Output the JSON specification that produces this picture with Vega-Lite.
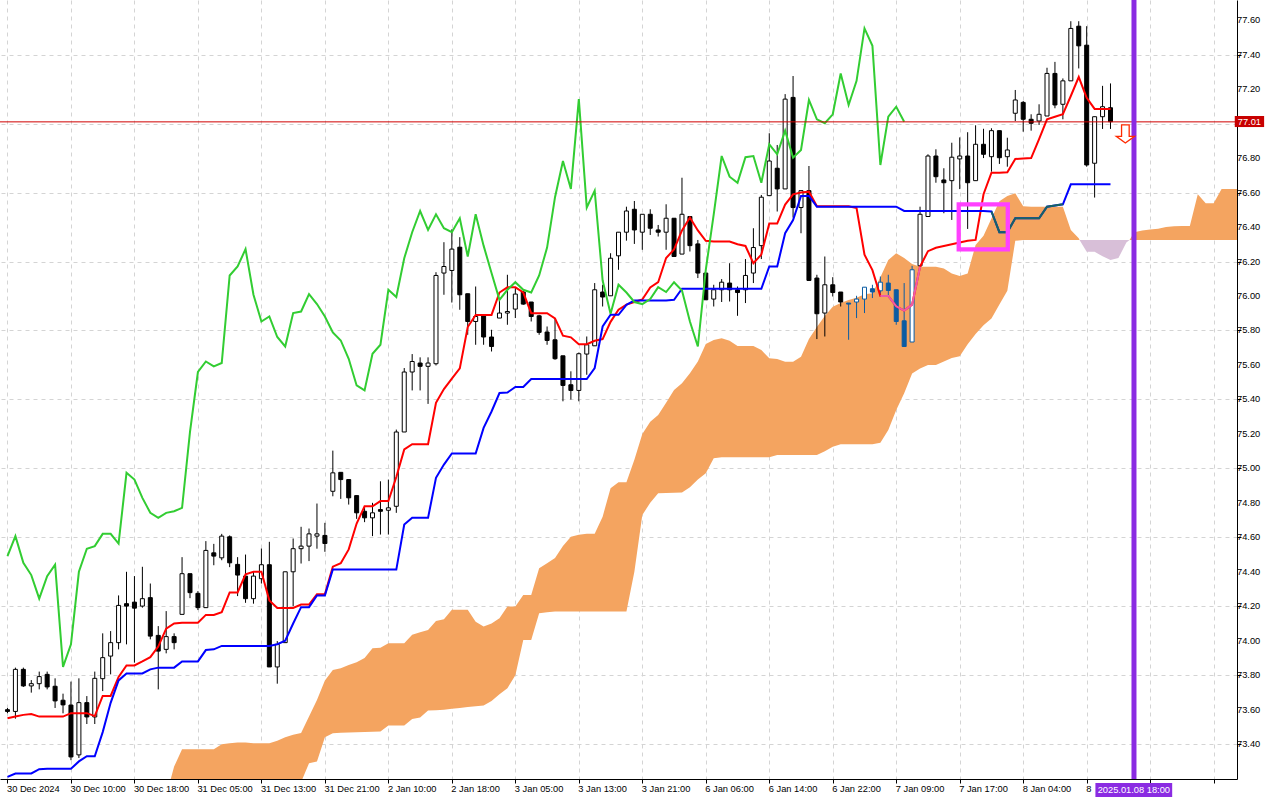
{
  "$schema": "https://vega.github.io/schema/vega-lite/v6.json",
  "width": 1237,
  "height": 779,
  "autosize": {"type": "none"},
  "padding": {"left": 0, "top": 0, "right": 43, "bottom": 21},
  "background": "white",
  "config": {
    "view": {"stroke": null},
    "axis": {"labelFont": "Liberation Sans", "labelFontSize": 9.3, "labelColor": "black", "domainColor": "black", "tickColor": "black", "gridColor": "#d4d4d4", "gridDash": [4, 4], "labelOverlap": false}
  },
  "datasets": {
    "bars": [
      {"i":0,"o":73.60,"h":73.61,"l":73.58,"c":73.59,"t":73.55,"k":73.21,"ch":74.491},
      {"i":1,"o":73.59,"h":73.844,"l":73.548,"c":73.834,"t":73.56,"k":73.23,"ch":74.607},
      {"i":2,"o":73.834,"h":73.844,"l":73.732,"c":73.738,"t":73.57,"k":73.23,"ch":74.452},
      {"i":3,"o":73.738,"h":73.772,"l":73.699,"c":73.751,"t":73.575,"k":73.23,"ch":74.381},
      {"i":4,"o":73.751,"h":73.821,"l":73.718,"c":73.792,"t":73.56,"k":73.255,"ch":74.244},
      {"i":5,"o":73.805,"h":73.821,"l":73.718,"c":73.732,"t":73.56,"k":73.258,"ch":74.375},
      {"i":6,"o":73.736,"h":73.782,"l":73.610,"c":73.651,"t":73.56,"k":73.258,"ch":74.441},
      {"i":7,"o":73.655,"h":73.693,"l":73.579,"c":73.628,"t":73.56,"k":73.258,"ch":73.848},
      {"i":8,"o":73.627,"h":73.763,"l":73.307,"c":73.326,"t":73.58,"k":73.258,"ch":73.979},
      {"i":9,"o":73.338,"h":73.782,"l":73.320,"c":73.641,"t":73.58,"k":73.30,"ch":74.400},
      {"i":10,"o":73.641,"h":73.679,"l":73.517,"c":73.558,"t":73.58,"k":73.33,"ch":74.534},
      {"i":11,"o":73.558,"h":73.821,"l":73.517,"c":73.782,"t":73.563,"k":73.33,"ch":74.549},
      {"i":12,"o":73.780,"h":74.043,"l":73.708,"c":73.902,"t":73.68,"k":73.47,"ch":74.620},
      {"i":13,"o":73.911,"h":74.056,"l":73.805,"c":73.989,"t":73.68,"k":73.64,"ch":74.620},
      {"i":14,"o":73.989,"h":74.263,"l":73.950,"c":74.205,"t":73.79,"k":73.77,"ch":74.564},
      {"i":15,"o":74.215,"h":74.400,"l":73.979,"c":74.201,"t":73.857,"k":73.81,"ch":74.974},
      {"i":16,"o":74.224,"h":74.375,"l":73.873,"c":74.189,"t":73.857,"k":73.81,"ch":74.935},
      {"i":17,"o":74.201,"h":74.429,"l":74.192,"c":74.244,"t":73.88,"k":73.81,"ch":74.829},
      {"i":18,"o":74.250,"h":74.332,"l":74.008,"c":74.027,"t":73.905,"k":73.834,"ch":74.742},
      {"i":19,"o":74.031,"h":74.085,"l":73.718,"c":73.940,"t":73.966,"k":73.844,"ch":74.713},
      {"i":20,"o":73.950,"h":74.172,"l":73.927,"c":74.024,"t":74.07,"k":73.844,"ch":74.742},
      {"i":21,"o":74.024,"h":74.043,"l":73.950,"c":73.989,"t":74.10,"k":73.844,"ch":74.751},
      {"i":22,"o":74.153,"h":74.485,"l":74.153,"c":74.389,"t":74.105,"k":73.88,"ch":74.771},
      {"i":23,"o":74.389,"h":74.389,"l":74.247,"c":74.279,"t":74.105,"k":73.88,"ch":75.211},
      {"i":24,"o":74.275,"h":74.288,"l":74.178,"c":74.192,"t":74.105,"k":73.88,"ch":75.559},
      {"i":25,"o":74.192,"h":74.578,"l":74.192,"c":74.524,"t":74.15,"k":73.946,"ch":75.620},
      {"i":26,"o":74.510,"h":74.562,"l":74.438,"c":74.491,"t":74.15,"k":73.95,"ch":75.592},
      {"i":27,"o":74.481,"h":74.620,"l":74.467,"c":74.607,"t":74.166,"k":73.97,"ch":75.611},
      {"i":28,"o":74.603,"h":74.611,"l":74.427,"c":74.452,"t":74.28,"k":73.97,"ch":76.119},
      {"i":29,"o":74.443,"h":74.485,"l":74.259,"c":74.381,"t":74.28,"k":73.97,"ch":76.171},
      {"i":30,"o":74.375,"h":74.500,"l":74.220,"c":74.244,"t":74.385,"k":73.97,"ch":76.272},
      {"i":31,"o":74.244,"h":74.400,"l":74.215,"c":74.375,"t":74.40,"k":73.97,"ch":76.007},
      {"i":32,"o":74.360,"h":74.535,"l":74.332,"c":74.441,"t":74.40,"k":73.97,"ch":75.852},
      {"i":33,"o":74.441,"h":74.574,"l":73.848,"c":73.848,"t":74.234,"k":73.97,"ch":75.881},
      {"i":34,"o":73.848,"h":73.998,"l":73.751,"c":73.979,"t":74.19,"k":73.98,"ch":75.762},
      {"i":35,"o":73.989,"h":74.400,"l":73.989,"c":74.400,"t":74.19,"k":74.00,"ch":75.707},
      {"i":36,"o":74.400,"h":74.593,"l":74.201,"c":74.534,"t":74.19,"k":74.10,"ch":75.901},
      {"i":37,"o":74.534,"h":74.661,"l":74.448,"c":74.549,"t":74.21,"k":74.195,"ch":75.910},
      {"i":38,"o":74.549,"h":74.651,"l":74.462,"c":74.620,"t":74.21,"k":74.195,"ch":76.011},
      {"i":39,"o":74.607,"h":74.796,"l":74.534,"c":74.620,"t":74.27,"k":74.263,"ch":75.953},
      {"i":40,"o":74.611,"h":74.684,"l":74.516,"c":74.564,"t":74.27,"k":74.263,"ch":75.881},
      {"i":41,"o":74.867,"h":75.103,"l":74.838,"c":74.974,"t":74.43,"k":74.413,"ch":75.789},
      {"i":42,"o":74.977,"h":74.977,"l":74.823,"c":74.935,"t":74.45,"k":74.413,"ch":75.742},
      {"i":43,"o":74.935,"h":74.935,"l":74.790,"c":74.829,"t":74.53,"k":74.413,"ch":75.636},
      {"i":44,"o":74.842,"h":74.842,"l":74.707,"c":74.742,"t":74.68,"k":74.413,"ch":75.481},
      {"i":45,"o":74.751,"h":74.777,"l":74.688,"c":74.713,"t":74.78,"k":74.413,"ch":75.452},
      {"i":46,"o":74.713,"h":74.800,"l":74.607,"c":74.742,"t":74.78,"k":74.413,"ch":75.665},
      {"i":47,"o":74.761,"h":74.925,"l":74.616,"c":74.751,"t":74.81,"k":74.413,"ch":75.717},
      {"i":48,"o":74.757,"h":74.935,"l":74.616,"c":74.771,"t":74.81,"k":74.413,"ch":76.036},
      {"i":49,"o":74.780,"h":75.225,"l":74.742,"c":75.211,"t":74.95,"k":74.413,"ch":75.994},
      {"i":50,"o":75.211,"h":75.582,"l":75.211,"c":75.559,"t":75.11,"k":74.674,"ch":76.219},
      {"i":51,"o":75.559,"h":75.663,"l":75.452,"c":75.620,"t":75.14,"k":74.713,"ch":76.370},
      {"i":52,"o":75.611,"h":75.644,"l":75.452,"c":75.592,"t":75.14,"k":74.713,"ch":76.493},
      {"i":53,"o":75.592,"h":75.644,"l":75.374,"c":75.611,"t":75.14,"k":74.713,"ch":76.383},
      {"i":54,"o":75.607,"h":76.138,"l":75.597,"c":76.119,"t":75.38,"k":74.945,"ch":76.474},
      {"i":55,"o":76.133,"h":76.312,"l":76.007,"c":76.171,"t":75.46,"k":75.022,"ch":76.393},
      {"i":56,"o":76.148,"h":76.387,"l":75.962,"c":76.272,"t":75.52,"k":75.086,"ch":76.370},
      {"i":57,"o":76.283,"h":76.341,"l":75.920,"c":76.007,"t":75.58,"k":75.086,"ch":76.451},
      {"i":58,"o":76.013,"h":76.013,"l":75.775,"c":75.852,"t":75.82,"k":75.086,"ch":76.229},
      {"i":59,"o":75.852,"h":76.055,"l":75.717,"c":75.881,"t":75.89,"k":75.086,"ch":76.474},
      {"i":60,"o":75.887,"h":75.887,"l":75.717,"c":75.762,"t":75.89,"k":75.235,"ch":76.292},
      {"i":61,"o":75.762,"h":75.804,"l":75.678,"c":75.707,"t":75.89,"k":75.33,"ch":76.133},
      {"i":62,"o":75.872,"h":75.978,"l":75.872,"c":75.901,"t":76.02,"k":75.437,"ch":75.978},
      {"i":63,"o":75.901,"h":76.123,"l":75.833,"c":75.910,"t":76.05,"k":75.44,"ch":76.036},
      {"i":64,"o":75.924,"h":76.046,"l":75.872,"c":76.011,"t":76.05,"k":75.472,"ch":76.080},
      {"i":65,"o":76.023,"h":76.030,"l":75.949,"c":75.953,"t":76.02,"k":75.472,"ch":76.036},
      {"i":66,"o":75.965,"h":75.965,"l":75.852,"c":75.881,"t":75.90,"k":75.518,"ch":76.020},
      {"i":67,"o":75.885,"h":75.891,"l":75.775,"c":75.789,"t":75.90,"k":75.518,"ch":76.119},
      {"i":68,"o":75.791,"h":75.823,"l":75.717,"c":75.742,"t":75.90,"k":75.518,"ch":76.281},
      {"i":69,"o":75.746,"h":75.872,"l":75.630,"c":75.636,"t":75.87,"k":75.518,"ch":76.573},
      {"i":70,"o":75.653,"h":75.653,"l":75.389,"c":75.481,"t":75.77,"k":75.518,"ch":76.783},
      {"i":71,"o":75.485,"h":75.563,"l":75.399,"c":75.452,"t":75.76,"k":75.518,"ch":76.621},
      {"i":72,"o":75.452,"h":75.672,"l":75.389,"c":75.665,"t":75.72,"k":75.518,"ch":77.142},
      {"i":73,"o":75.663,"h":75.765,"l":75.543,"c":75.717,"t":75.72,"k":75.518,"ch":76.513},
      {"i":74,"o":75.711,"h":76.075,"l":75.711,"c":76.036,"t":75.74,"k":75.582,"ch":76.611},
      {"i":75,"o":76.023,"h":76.065,"l":75.939,"c":75.994,"t":75.75,"k":75.823,"ch":76.090},
      {"i":76,"o":76.001,"h":76.248,"l":76.001,"c":76.219,"t":75.85,"k":75.891,"ch":75.897},
      {"i":77,"o":76.233,"h":76.370,"l":76.152,"c":76.370,"t":75.92,"k":75.891,"ch":76.065},
      {"i":78,"o":76.370,"h":76.518,"l":76.321,"c":76.493,"t":75.95,"k":75.949,"ch":76.020},
      {"i":79,"o":76.503,"h":76.551,"l":76.302,"c":76.383,"t":75.965,"k":75.974,"ch":75.965},
      {"i":80,"o":76.370,"h":76.474,"l":76.268,"c":76.474,"t":75.98,"k":75.974,"ch":75.953},
      {"i":81,"o":76.474,"h":76.503,"l":76.354,"c":76.393,"t":76.05,"k":75.974,"ch":75.982},
      {"i":82,"o":76.383,"h":76.412,"l":76.345,"c":76.370,"t":76.08,"k":75.974,"ch":76.051},
      {"i":83,"o":76.370,"h":76.532,"l":76.268,"c":76.451,"t":76.22,"k":75.974,"ch":76.023},
      {"i":84,"o":76.451,"h":76.451,"l":76.229,"c":76.229,"t":76.27,"k":75.978,"ch":76.080},
      {"i":85,"o":76.243,"h":76.686,"l":76.243,"c":76.474,"t":76.38,"k":76.042,"ch":76.032},
      {"i":86,"o":76.461,"h":76.461,"l":76.258,"c":76.292,"t":76.455,"k":76.042,"ch":75.852},
      {"i":87,"o":76.302,"h":76.325,"l":76.104,"c":76.133,"t":76.38,"k":76.042,"ch":75.707},
      {"i":88,"o":76.133,"h":76.133,"l":75.978,"c":75.978,"t":76.32,"k":76.042,"ch":76.152},
      {"i":89,"o":75.982,"h":76.065,"l":75.939,"c":76.036,"t":76.316,"k":76.042,"ch":76.474},
      {"i":90,"o":76.036,"h":76.098,"l":75.965,"c":76.080,"t":76.316,"k":76.042,"ch":76.812},
      {"i":91,"o":76.075,"h":76.190,"l":75.968,"c":76.036,"t":76.316,"k":76.042,"ch":76.692},
      {"i":92,"o":76.036,"h":76.055,"l":75.885,"c":76.020,"t":76.30,"k":76.042,"ch":76.657},
      {"i":93,"o":76.036,"h":76.214,"l":75.959,"c":76.119,"t":76.29,"k":76.042,"ch":76.805},
      {"i":94,"o":76.133,"h":76.393,"l":76.075,"c":76.281,"t":76.19,"k":76.042,"ch":76.812},
      {"i":95,"o":76.292,"h":76.586,"l":76.214,"c":76.573,"t":76.24,"k":76.042,"ch":76.657},
      {"i":96,"o":76.582,"h":76.944,"l":76.582,"c":76.783,"t":76.42,"k":76.171,"ch":76.880},
      {"i":97,"o":76.741,"h":76.876,"l":76.490,"c":76.621,"t":76.42,"k":76.171,"ch":76.822},
      {"i":98,"o":76.621,"h":77.171,"l":76.621,"c":77.142,"t":76.53,"k":76.364,"ch":76.959},
      {"i":99,"o":77.152,"h":77.276,"l":76.455,"c":76.513,"t":76.59,"k":76.441,"ch":76.802},
      {"i":100,"o":76.513,"h":76.611,"l":76.364,"c":76.611,"t":76.60,"k":76.58,"ch":76.847},
      {"i":101,"o":76.611,"h":76.754,"l":76.090,"c":76.090,"t":76.605,"k":76.58,"ch":77.137},
      {"i":102,"o":76.104,"h":76.123,"l":75.750,"c":75.897,"t":76.52,"k":76.518,"ch":77.025},
      {"i":103,"o":75.901,"h":76.229,"l":75.765,"c":76.065,"t":76.52,"k":76.518,"ch":77.002},
      {"i":104,"o":76.065,"h":76.109,"l":75.997,"c":76.020,"t":76.52,"k":76.518,"ch":77.054},
      {"i":105,"o":76.023,"h":76.023,"l":75.939,"c":75.965,"t":76.52,"k":76.518,"ch":77.291},
      {"i":106,"o":75.959,"h":75.959,"l":75.746,"c":75.953,"t":76.52,"k":76.518,"ch":77.108},
      {"i":107,"o":75.965,"h":76.001,"l":75.872,"c":75.982,"t":76.51,"k":76.518,"ch":77.248},
      {"i":108,"o":75.982,"h":76.051,"l":75.901,"c":76.051,"t":76.24,"k":76.518,"ch":77.552},
      {"i":109,"o":76.042,"h":76.065,"l":75.988,"c":76.023,"t":76.15,"k":76.518,"ch":77.451},
      {"i":110,"o":76.030,"h":76.113,"l":76.001,"c":76.080,"t":76.00,"k":76.518,"ch":76.760},
      {"i":111,"o":76.075,"h":76.123,"l":75.997,"c":76.032,"t":76.00,"k":76.518,"ch":77.040},
      {"i":112,"o":76.036,"h":76.036,"l":75.833,"c":75.852,"t":75.94,"k":76.518,"ch":77.098},
      {"i":113,"o":75.856,"h":76.075,"l":75.707,"c":75.707,"t":75.915,"k":76.493,"ch":77.011},
      {"i":114,"o":75.733,"h":76.175,"l":75.733,"c":76.152,"t":75.95,"k":76.493},
      {"i":115,"o":76.175,"h":76.518,"l":76.175,"c":76.474,"t":76.17,"k":76.493},
      {"i":116,"o":76.461,"h":76.822,"l":76.461,"c":76.812,"t":76.26,"k":76.493},
      {"i":117,"o":76.812,"h":76.851,"l":76.657,"c":76.692,"t":76.28,"k":76.493},
      {"i":118,"o":76.673,"h":76.741,"l":76.480,"c":76.657,"t":76.29,"k":76.493},
      {"i":119,"o":76.669,"h":76.889,"l":76.441,"c":76.805,"t":76.30,"k":76.493},
      {"i":120,"o":76.795,"h":76.92,"l":76.62,"c":76.812,"t":76.31,"k":76.493},
      {"i":121,"o":76.812,"h":76.95,"l":76.389,"c":76.657,"t":76.32,"k":76.493},
      {"i":122,"o":76.669,"h":76.99,"l":76.669,"c":76.880,"t":76.325,"k":76.493},
      {"i":123,"o":76.880,"h":76.97,"l":76.80,"c":76.822,"t":76.59,"k":76.493},
      {"i":124,"o":76.808,"h":76.973,"l":76.721,"c":76.959,"t":76.715,"k":76.49},
      {"i":125,"o":76.959,"h":76.959,"l":76.766,"c":76.802,"t":76.715,"k":76.37},
      {"i":126,"o":76.808,"h":76.918,"l":76.750,"c":76.847,"t":76.718,"k":76.37},
      {"i":127,"o":77.060,"h":77.195,"l":77.015,"c":77.137,"t":76.795,"k":76.451},
      {"i":128,"o":77.123,"h":77.131,"l":76.953,"c":77.025,"t":76.797,"k":76.451},
      {"i":129,"o":77.025,"h":77.054,"l":76.959,"c":77.002,"t":76.80,"k":76.451},
      {"i":130,"o":77.015,"h":77.112,"l":76.992,"c":77.054,"t":76.91,"k":76.451},
      {"i":131,"o":77.044,"h":77.324,"l":77.044,"c":77.291,"t":77.025,"k":76.518},
      {"i":132,"o":77.291,"h":77.358,"l":77.089,"c":77.108,"t":77.04,"k":76.525},
      {"i":133,"o":77.112,"h":77.262,"l":77.025,"c":77.248,"t":77.055,"k":76.532},
      {"i":134,"o":77.248,"h":77.594,"l":77.248,"c":77.552,"t":77.16,"k":76.648},
      {"i":135,"o":77.565,"h":77.594,"l":77.320,"c":77.451,"t":77.27,"k":76.648},
      {"i":136,"o":77.455,"h":77.565,"l":76.750,"c":76.760,"t":77.15,"k":76.648},
      {"i":137,"o":76.770,"h":77.040,"l":76.571,"c":77.040,"t":77.085,"k":76.648},
      {"i":138,"o":77.040,"h":77.219,"l":76.969,"c":77.098,"t":77.085,"k":76.648},
      {"i":139,"o":77.092,"h":77.233,"l":76.969,"c":77.011,"t":77.085,"k":76.648}
    ],
    "cloud": [
      {"i":20,"a":73.10,"b":72.90,"z":"up"},{"i":21,"a":73.27,"b":72.90,"z":"up"},{"i":22,"a":73.37,"b":72.90,"z":"up"},
      {"i":23,"a":73.37,"b":72.90,"z":"up"},{"i":24,"a":73.37,"b":72.90,"z":"up"},{"i":25,"a":73.37,"b":72.90,"z":"up"},
      {"i":26,"a":73.37,"b":72.90,"z":"up"},{"i":27,"a":73.40,"b":72.90,"z":"up"},{"i":28,"a":73.405,"b":72.90,"z":"up"},
      {"i":29,"a":73.41,"b":72.90,"z":"up"},{"i":30,"a":73.41,"b":72.90,"z":"up"},{"i":31,"a":73.405,"b":72.95,"z":"up"},
      {"i":32,"a":73.405,"b":72.95,"z":"up"},{"i":33,"a":73.405,"b":73.00,"z":"up"},{"i":34,"a":73.42,"b":73.00,"z":"up"},
      {"i":35,"a":73.44,"b":73.05,"z":"up"},{"i":36,"a":73.455,"b":73.10,"z":"up"},{"i":37,"a":73.465,"b":73.18,"z":"up"},
      {"i":38,"a":73.56,"b":73.289,"z":"up"},{"i":39,"a":73.657,"b":73.30,"z":"up"},{"i":40,"a":73.77,"b":73.44,"z":"up"},
      {"i":41,"a":73.83,"b":73.463,"z":"up"},{"i":42,"a":73.84,"b":73.467,"z":"up"},{"i":43,"a":73.86,"b":73.468,"z":"up"},
      {"i":44,"a":73.875,"b":73.469,"z":"up"},{"i":45,"a":73.90,"b":73.47,"z":"up"},{"i":46,"a":73.956,"b":73.472,"z":"up"},
      {"i":47,"a":73.96,"b":73.473,"z":"up"},{"i":48,"a":73.985,"b":73.508,"z":"up"},{"i":49,"a":73.985,"b":73.508,"z":"up"},
      {"i":50,"a":73.985,"b":73.508,"z":"up"},{"i":51,"a":74.035,"b":73.546,"z":"up"},{"i":52,"a":74.05,"b":73.555,"z":"up"},
      {"i":53,"a":74.063,"b":73.595,"z":"up"},{"i":54,"a":74.115,"b":73.597,"z":"up"},{"i":55,"a":74.125,"b":73.599,"z":"up"},
      {"i":56,"a":74.18,"b":73.605,"z":"up"},{"i":57,"a":74.18,"b":73.61,"z":"up"},{"i":58,"a":74.18,"b":73.615,"z":"up"},
      {"i":59,"a":74.11,"b":73.62,"z":"up"},{"i":60,"a":74.082,"b":73.624,"z":"up"},{"i":61,"a":74.10,"b":73.65,"z":"up"},
      {"i":62,"a":74.13,"b":73.69,"z":"up"},{"i":63,"a":74.198,"b":73.724,"z":"up"},{"i":64,"a":74.198,"b":73.80,"z":"up"},
      {"i":65,"a":74.266,"b":74.005,"z":"up"},{"i":66,"a":74.266,"b":74.005,"z":"up"},{"i":67,"a":74.42,"b":74.16,"z":"up"},
      {"i":68,"a":74.45,"b":74.165,"z":"up"},{"i":69,"a":74.48,"b":74.169,"z":"up"},{"i":70,"a":74.55,"b":74.17,"z":"up"},
      {"i":71,"a":74.604,"b":74.17,"z":"up"},{"i":72,"a":74.615,"b":74.17,"z":"up"},{"i":73,"a":74.62,"b":74.17,"z":"up"},
      {"i":74,"a":74.62,"b":74.17,"z":"up"},{"i":75,"a":74.72,"b":74.17,"z":"up"},{"i":76,"a":74.885,"b":74.17,"z":"up"},
      {"i":77,"a":74.919,"b":74.17,"z":"up"},{"i":78,"a":74.919,"b":74.17,"z":"up"},{"i":79,"a":75.05,"b":74.40,"z":"up"},
      {"i":80,"a":75.20,"b":74.73,"z":"up"},{"i":81,"a":75.27,"b":74.80,"z":"up"},{"i":82,"a":75.31,"b":74.856,"z":"up"},
      {"i":83,"a":75.38,"b":74.857,"z":"up"},{"i":84,"a":75.455,"b":74.858,"z":"up"},{"i":85,"a":75.494,"b":74.86,"z":"up"},
      {"i":86,"a":75.552,"b":74.89,"z":"up"},{"i":87,"a":75.62,"b":74.935,"z":"up"},{"i":88,"a":75.722,"b":74.971,"z":"up"},
      {"i":89,"a":75.745,"b":75.059,"z":"up"},{"i":90,"a":75.755,"b":75.065,"z":"up"},{"i":91,"a":75.74,"b":75.065,"z":"up"},
      {"i":92,"a":75.71,"b":75.065,"z":"up"},{"i":93,"a":75.71,"b":75.065,"z":"up"},{"i":94,"a":75.71,"b":75.065,"z":"up"},
      {"i":95,"a":75.687,"b":75.065,"z":"up"},{"i":96,"a":75.639,"b":75.065,"z":"up"},{"i":97,"a":75.635,"b":75.078,"z":"up"},
      {"i":98,"a":75.619,"b":75.078,"z":"up"},{"i":99,"a":75.619,"b":75.078,"z":"up"},{"i":100,"a":75.648,"b":75.078,"z":"up"},
      {"i":101,"a":75.75,"b":75.078,"z":"up"},{"i":102,"a":75.82,"b":75.078,"z":"up"},{"i":103,"a":75.884,"b":75.10,"z":"up"},
      {"i":104,"a":75.938,"b":75.126,"z":"up"},{"i":105,"a":75.96,"b":75.14,"z":"up"},{"i":106,"a":75.977,"b":75.14,"z":"up"},
      {"i":107,"a":75.99,"b":75.14,"z":"up"},{"i":108,"a":76.01,"b":75.14,"z":"up"},{"i":109,"a":76.016,"b":75.14,"z":"up"},
      {"i":110,"a":76.109,"b":75.149,"z":"up"},{"i":111,"a":76.209,"b":75.223,"z":"up"},{"i":112,"a":76.248,"b":75.339,"z":"up"},
      {"i":113,"a":76.22,"b":75.436,"z":"up"},{"i":114,"a":76.186,"b":75.55,"z":"up"},{"i":115,"a":76.17,"b":75.58,"z":"up"},
      {"i":116,"a":76.17,"b":75.60,"z":"up"},{"i":117,"a":76.17,"b":75.60,"z":"up"},{"i":118,"a":76.16,"b":75.62,"z":"up"},
      {"i":119,"a":76.13,"b":75.64,"z":"up"},{"i":120,"a":76.116,"b":75.65,"z":"up"},{"i":121,"a":76.13,"b":75.72,"z":"up"},
      {"i":122,"a":76.296,"b":75.78,"z":"up"},{"i":123,"a":76.35,"b":75.83,"z":"up"},{"i":124,"a":76.45,"b":75.87,"z":"up"},
      {"i":125,"a":76.55,"b":75.95,"z":"up"},{"i":126,"a":76.58,"b":76.03,"z":"up"},{"i":127,"a":76.596,"b":76.32,"z":"up"},
      {"i":128,"a":76.52,"b":76.325,"z":"up"},{"i":129,"a":76.518,"b":76.325,"z":"up"},{"i":130,"a":76.518,"b":76.325,"z":"up"},
      {"i":131,"a":76.518,"b":76.325,"z":"up"},{"i":132,"a":76.518,"b":76.325,"z":"up"},{"i":133,"a":76.518,"b":76.325,"z":"up"},
      {"i":134,"a":76.383,"b":76.325,"z":"up"},{"i":135,"a":76.335,"b":76.325,"z":"up"},{"i":135.1,"a":76.325,"b":76.325,"z":"up"},
      {"i":135.1,"a":76.325,"b":76.325,"z":"dn"},{"i":136,"a":76.257,"b":76.325,"z":"dn"},{"i":137,"a":76.257,"b":76.325,"z":"dn"},
      {"i":138,"a":76.23,"b":76.325,"z":"dn"},{"i":139,"a":76.209,"b":76.325,"z":"dn"},{"i":140,"a":76.22,"b":76.325,"z":"dn"},
      {"i":141,"a":76.31,"b":76.325,"z":"dn"},{"i":141.4,"a":76.325,"b":76.325,"z":"dn"},
      {"i":141.4,"a":76.325,"b":76.325,"z":"up"},{"i":142,"a":76.37,"b":76.325,"z":"up"},{"i":143,"a":76.38,"b":76.325,"z":"up"},
      {"i":144,"a":76.385,"b":76.325,"z":"up"},{"i":145,"a":76.39,"b":76.325,"z":"up"},{"i":146,"a":76.40,"b":76.325,"z":"up"},
      {"i":147,"a":76.405,"b":76.325,"z":"up"},{"i":148,"a":76.406,"b":76.325,"z":"up"},{"i":149,"a":76.406,"b":76.325,"z":"up"},
      {"i":150,"a":76.59,"b":76.325,"z":"up"},{"i":151,"a":76.538,"b":76.325,"z":"up"},{"i":152,"a":76.538,"b":76.325,"z":"up"},
      {"i":153,"a":76.62,"b":76.325,"z":"up"},{"i":154,"a":76.62,"b":76.325,"z":"up"},{"i":155,"a":76.62,"b":76.325,"z":"up"}
    ],
    "levels": [
      {"p":73.4},{"p":73.6},{"p":73.8},{"p":74.0},{"p":74.2},{"p":74.4},{"p":74.6},{"p":74.8},{"p":75.0},{"p":75.2},{"p":75.4},
      {"p":75.6},{"p":75.8},{"p":76.0},{"p":76.2},{"p":76.4},{"p":76.6},{"p":76.8},{"p":77.2},{"p":77.4},{"p":77.6}
    ],
    "objects": [
      {"obj": "box", "i1": 119.875, "i2": 126.06, "p1": 76.531, "p2": 76.27},
      {"obj": "vline", "i1": 141.96},
      {"obj": "bid", "p1": 77.01},
      {"obj": "arrow", "i1": 140.875, "p1": 76.94}
    ]
  },
  "layer": [
    {
      "data": {"name": "cloud"},
      "mark": {"type": "area", "clip": true},
      "encoding": {
        "x": {"field": "i", "type": "quantitative", "scale": {"domain": [-0.3125, 154.3125], "nice": false, "zero": false},
          "axis": {
            "title": null,
            "values": [0,4,8,12,16,20,24,28,32,36,40,44,48,52,56,60,64,68,72,76,80,84,88,92,96,100,104,108,112,116,120,124,128,132,136,140,144,148,152],
            "grid": true, "domain": true, "ticks": true, "tickSize": 4,
            "tickOpacity": {"condition": {"test": "datum.value % 8 === 0", "value": 1}, "value": 0},
            "labelExpr": "datum.value % 8 === 0 ? ['30 Dec 2024','30 Dec 10:00','30 Dec 18:00','31 Dec 05:00','31 Dec 13:00','31 Dec 21:00','2 Jan 10:00','2 Jan 18:00','3 Jan 05:00','3 Jan 13:00','3 Jan 21:00','6 Jan 06:00','6 Jan 14:00','6 Jan 22:00','7 Jan 09:00','7 Jan 17:00','8 Jan 04:00','8','',''][datum.value / 8] : ''",
            "labelAlign": "left", "labelBaseline": "top", "labelPadding": 1, "labelOffset": -1,
            "labelOverlap": false, "labelFlush": false, "labelBound": false
          }},
        "y": {"field": "a", "type": "quantitative", "scale": {"domain": [73.198, 77.717], "nice": false, "zero": false},
          "axis": {
            "title": null,
            "orient": "right",
            "values": [73.4,73.6,73.8,74.0,74.2,74.4,74.6,74.8,75.0,75.2,75.4,75.6,75.8,76.0,76.2,76.4,76.6,76.8,77.0,77.2,77.4,77.6],
            "labels": false,
            "grid": true, "domain": true, "ticks": true, "tickSize": 4
          }},
        "y2": {"field": "b"},
        "color": {"field": "z", "type": "nominal", "scale": {"domain": ["up", "dn"], "range": ["#f4a460", "#d8bfd8"]}, "legend": null}
      }
    },
    {
      "data": {"name": "bars"},
      "mark": {"type": "rule", "strokeWidth": 1},
      "encoding": {
        "x": {"field": "i", "type": "quantitative"},
        "y": {"field": "l", "type": "quantitative", "axis": {"orient": "right"}},
        "y2": {"field": "h"},
        "color": {"condition": {"test": "datum.i >= 106 && datum.i <= 114", "value": "#0b5ca3"}, "value": "black"}
      }
    },
    {
      "data": {"name": "bars"},
      "mark": {"type": "bar", "size": 4, "strokeWidth": 1},
      "encoding": {
        "x": {"field": "i", "type": "quantitative"},
        "y": {"field": "o", "type": "quantitative", "axis": {"orient": "right"}},
        "y2": {"field": "c"},
        "fill": {"condition": [
          {"test": "datum.c >= datum.o", "value": "white"},
          {"test": "datum.i >= 106 && datum.i <= 114", "value": "#0b5ca3"}
        ], "value": "black"},
        "stroke": {"condition": {"test": "datum.i >= 106 && datum.i <= 114", "value": "#0b5ca3"}, "value": "black"}
      }
    },
    {
      "data": {"name": "bars"},
      "mark": {"type": "line", "color": "#ff0000", "strokeWidth": 2},
      "encoding": {
        "x": {"field": "i", "type": "quantitative"},
        "y": {"field": "t", "type": "quantitative", "axis": {"orient": "right"}}
      }
    },
    {
      "data": {"name": "bars"},
      "transform": [{"filter": "datum.i >= 110 && datum.i <= 115"}],
      "mark": {"type": "line", "color": "#ef5ba8", "strokeWidth": 2},
      "encoding": {
        "x": {"field": "i", "type": "quantitative"},
        "y": {"field": "t", "type": "quantitative", "axis": {"orient": "right"}}
      }
    },
    {
      "data": {"name": "bars"},
      "mark": {"type": "line", "color": "#0000ff", "strokeWidth": 2},
      "encoding": {
        "x": {"field": "i", "type": "quantitative"},
        "y": {"field": "k", "type": "quantitative", "axis": {"orient": "right"}}
      }
    },
    {
      "data": {"name": "bars"},
      "transform": [{"filter": "datum.i >= 124 && datum.i <= 133"}],
      "mark": {"type": "line", "color": "#166464", "strokeWidth": 2},
      "encoding": {
        "x": {"field": "i", "type": "quantitative"},
        "y": {"field": "k", "type": "quantitative", "axis": {"orient": "right"}}
      }
    },
    {
      "data": {"name": "bars"},
      "transform": [{"filter": "isValid(datum.ch)"}],
      "mark": {"type": "line", "color": "#32cd32", "strokeWidth": 2},
      "encoding": {
        "x": {"field": "i", "type": "quantitative"},
        "y": {"field": "ch", "type": "quantitative", "axis": {"orient": "right"}}
      }
    },
    {
      "data": {"name": "objects"},
      "transform": [{"filter": "datum.obj === 'bid'"}],
      "mark": {"type": "rule", "color": "#d00000", "strokeWidth": 1},
      "encoding": {
        "y": {"field": "p1", "type": "quantitative", "axis": {"orient": "right"}}
      }
    },
    {
      "data": {"name": "objects"},
      "transform": [{"filter": "datum.obj === 'vline'"}],
      "mark": {"type": "rule", "color": "#8a2be2", "strokeWidth": 5},
      "encoding": {
        "x": {"field": "i1", "type": "quantitative"}
      }
    },
    {
      "data": {"name": "objects"},
      "transform": [{"filter": "datum.obj === 'box'"}],
      "mark": {"type": "rect", "fill": "transparent", "stroke": "#ff40ff", "strokeWidth": 4.3},
      "encoding": {
        "x": {"field": "i1", "type": "quantitative"},
        "x2": {"field": "i2"},
        "y": {"field": "p1", "type": "quantitative", "axis": {"orient": "right"}},
        "y2": {"field": "p2"}
      }
    },
    {
      "data": {"name": "objects"},
      "transform": [{"filter": "datum.obj === 'arrow'"}],
      "mark": {"type": "point", "shape": "M-0.42,-1L0.42,-1L0.42,0.27L1,0.27L0,1L-1,0.27L-0.42,0.27Z", "size": 330, "filled": true, "fill": "white", "stroke": "#ff2a00", "strokeWidth": 1.3, "opacity": 1},
      "encoding": {
        "x": {"field": "i1", "type": "quantitative"},
        "y": {"field": "p1", "type": "quantitative", "axis": {"orient": "right"}}
      }
    },
    {
      "data": {"name": "levels"},
      "mark": {"type": "text", "align": "left", "baseline": "middle", "font": "Liberation Sans", "fontSize": 9.3, "color": "black"},
      "encoding": {
        "x": {"datum": 154.94, "type": "quantitative"},
        "y": {"field": "p", "type": "quantitative", "axis": {"orient": "right"}},
        "text": {"field": "p", "type": "quantitative", "format": ".2f"}
      }
    },
    {
      "data": {"values": [{}]},
      "mark": {"type": "rect", "color": "#c80000"},
      "encoding": {
        "x": {"datum": 154.66, "type": "quantitative"},
        "x2": {"datum": 158.36},
        "y": {"datum": 77.044, "type": "quantitative", "axis": {"orient": "right"}},
        "y2": {"datum": 76.980}
      }
    },
    {
      "data": {"values": [{}]},
      "mark": {"type": "text", "text": "77.01", "color": "white", "font": "Liberation Sans", "fontSize": 9.3, "align": "center", "baseline": "middle"},
      "encoding": {
        "x": {"datum": 156.5, "type": "quantitative"},
        "y": {"datum": 77.012, "type": "quantitative", "axis": {"orient": "right"}}
      }
    },
    {
      "data": {"values": [{}]},
      "mark": {"type": "rect", "color": "#8a2be2"},
      "encoding": {
        "x": {"datum": 137.1, "type": "quantitative"},
        "x2": {"datum": 146.775},
        "y": {"datum": 73.175, "type": "quantitative", "axis": {"orient": "right"}},
        "y2": {"datum": 73.094}
      }
    },
    {
      "data": {"values": [{}]},
      "mark": {"type": "text", "text": "2025.01.08 18:00", "color": "white", "font": "Liberation Sans", "fontSize": 9.3, "align": "center", "baseline": "middle"},
      "encoding": {
        "x": {"datum": 141.94, "type": "quantitative"},
        "y": {"datum": 73.135, "type": "quantitative", "axis": {"orient": "right"}}
      }
    }
  ]
}
